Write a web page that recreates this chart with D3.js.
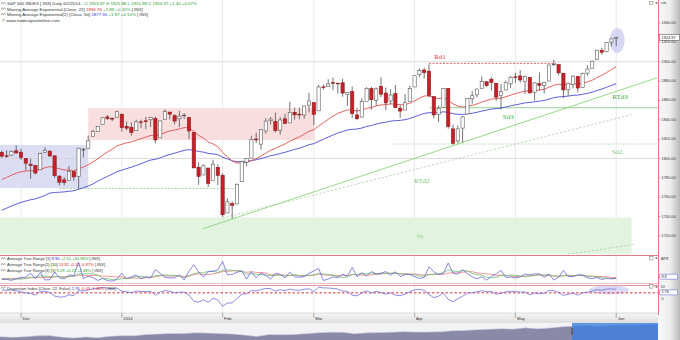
<!DOCTYPE html>
<html><head><meta charset="utf-8">
<script src="https://cdn.jsdelivr.net/npm/d3@7"></script>
<style>
html,body{margin:0;padding:0;background:#fff;}
svg{display:block;font-family:"Liberation Sans",Arial,sans-serif;}
</style></head><body>
<svg id="c" width="680" height="340"></svg>
<script>
// ---------------- DATA ----------------
const dates = [
"2013-11-25","2013-11-26","2013-11-27","2013-11-29",
"2013-12-02","2013-12-03","2013-12-04","2013-12-05","2013-12-06","2013-12-09","2013-12-10","2013-12-11","2013-12-12","2013-12-13","2013-12-16","2013-12-17","2013-12-18","2013-12-19","2013-12-20","2013-12-23","2013-12-24","2013-12-26","2013-12-27","2013-12-30","2013-12-31",
"2014-01-02","2014-01-03","2014-01-06","2014-01-07","2014-01-08","2014-01-09","2014-01-10","2014-01-13","2014-01-14","2014-01-15","2014-01-16","2014-01-17","2014-01-21","2014-01-22","2014-01-23","2014-01-24","2014-01-27","2014-01-28","2014-01-29","2014-01-30","2014-01-31",
"2014-02-03","2014-02-04","2014-02-05","2014-02-06","2014-02-07","2014-02-10","2014-02-11","2014-02-12","2014-02-13","2014-02-14","2014-02-18","2014-02-19","2014-02-20","2014-02-21","2014-02-24","2014-02-25","2014-02-26","2014-02-27","2014-02-28",
"2014-03-03","2014-03-04","2014-03-05","2014-03-06","2014-03-07","2014-03-10","2014-03-11","2014-03-12","2014-03-13","2014-03-14","2014-03-17","2014-03-18","2014-03-19","2014-03-20","2014-03-21","2014-03-24","2014-03-25","2014-03-26","2014-03-27","2014-03-28","2014-03-31",
"2014-04-01","2014-04-02","2014-04-03","2014-04-04","2014-04-07","2014-04-08","2014-04-09","2014-04-10","2014-04-11","2014-04-14","2014-04-15","2014-04-16","2014-04-17","2014-04-21","2014-04-22","2014-04-23","2014-04-24","2014-04-25","2014-04-28","2014-04-29","2014-04-30",
"2014-05-01","2014-05-02","2014-05-05","2014-05-06","2014-05-07","2014-05-08","2014-05-09","2014-05-12","2014-05-13","2014-05-14","2014-05-15","2014-05-16","2014-05-19","2014-05-20","2014-05-21","2014-05-22","2014-05-23","2014-05-27","2014-05-28","2014-05-29","2014-05-30",
"2014-06-02"];

const opens = [1806.33,1802.87,1803.48,1808.01,
1806.55,1800.10,1794.15,1792.82,1788.36,1806.21,1807.60,1802.76,1781.71,1777.98,1777.48,1786.47,1781.46,1809.00,1810.39,1822.92,1828.02,1834.96,1842.97,1841.47,1842.61,
1845.86,1833.21,1832.31,1828.71,1837.90,1839.00,1840.06,1841.26,1821.36,1840.52,1847.99,1844.23,1841.05,1844.71,1842.29,1826.96,1791.03,1783.00,1790.15,1777.17,1790.88,
1782.68,1743.82,1753.38,1752.99,1776.01,1796.20,1800.45,1820.12,1814.82,1828.46,1839.03,1838.22,1829.24,1841.07,1836.78,1847.66,1845.79,1844.90,1855.12,
1857.68,1849.23,1874.05,1874.18,1878.52,1877.86,1878.26,1866.15,1869.06,1845.07,1842.81,1858.92,1872.25,1860.09,1874.53,1867.67,1859.48,1867.09,1852.11,1850.07,1859.16,
1873.96,1886.61,1891.43,1890.25,1863.92,1845.48,1852.64,1872.28,1830.65,1818.18,1831.45,1846.01,1861.73,1865.79,1872.57,1879.32,1881.97,1877.72,1865.00,1870.78,1877.10,
1884.39,1885.30,1879.45,1883.69,1868.53,1877.39,1875.27,1880.03,1896.75,1897.13,1888.16,1871.19,1876.66,1884.88,1873.34,1888.19,1893.32,1902.01,1911.77,1910.60,1920.33,
1923.87];

const highs = [1808.10,1808.42,1808.27,1813.55,
1810.02,1800.10,1799.80,1792.82,1806.04,1811.52,1808.52,1802.97,1782.99,1780.92,1792.22,1786.77,1811.08,1810.88,1823.75,1829.75,1833.32,1842.84,1844.89,1842.47,1849.44,
1845.86,1838.24,1837.16,1840.10,1840.02,1843.23,1843.15,1843.45,1839.26,1850.84,1847.99,1846.04,1849.31,1846.87,1842.29,1826.96,1795.98,1793.87,1790.15,1798.77,1793.88,
1784.83,1758.73,1755.79,1774.06,1798.03,1799.94,1823.54,1826.55,1830.25,1841.65,1842.87,1847.50,1842.79,1846.13,1858.71,1852.91,1852.65,1854.53,1867.92,
1857.68,1876.23,1876.53,1881.94,1883.57,1877.87,1882.35,1868.38,1874.40,1852.44,1862.30,1873.76,1874.14,1873.49,1883.97,1873.34,1871.87,1875.92,1855.55,1866.63,1875.18,
1885.84,1893.17,1893.80,1897.28,1864.04,1854.95,1872.43,1872.53,1835.07,1834.19,1844.02,1862.31,1869.63,1871.89,1884.89,1879.75,1884.06,1877.72,1877.01,1880.60,1885.20,
1888.59,1891.33,1885.51,1883.69,1878.83,1889.07,1878.57,1897.13,1902.17,1897.13,1888.16,1878.28,1886.00,1884.88,1888.80,1896.33,1901.26,1912.28,1914.46,1920.03,1924.03,
1925.88];

const lows = [1800.58,1800.77,1802.77,1804.78,
1798.60,1787.85,1779.09,1783.38,1788.36,1806.21,1801.75,1780.09,1772.28,1772.45,1777.48,1777.05,1767.99,1801.35,1810.25,1822.92,1828.02,1834.96,1839.81,1838.77,1842.41,
1827.74,1829.13,1823.73,1828.71,1831.40,1830.38,1832.43,1815.52,1821.36,1840.52,1840.30,1835.23,1832.38,1840.88,1820.06,1790.29,1772.88,1783.00,1770.45,1777.17,1772.26,
1739.66,1743.82,1737.92,1752.99,1776.01,1791.83,1800.41,1815.97,1809.22,1825.59,1835.01,1826.99,1824.58,1835.60,1836.78,1840.19,1840.66,1841.13,1847.67,
1834.44,1849.23,1871.11,1874.18,1870.56,1867.04,1863.88,1854.38,1841.86,1839.57,1842.81,1858.92,1850.35,1854.63,1863.46,1849.69,1855.96,1852.56,1842.11,1850.07,1859.16,
1873.96,1883.79,1882.65,1863.26,1841.48,1837.49,1852.38,1830.87,1814.36,1815.80,1816.29,1846.01,1856.72,1863.18,1872.57,1873.91,1870.24,1859.70,1850.61,1870.78,1872.69,
1878.04,1878.50,1866.77,1867.72,1859.79,1870.05,1867.02,1880.03,1896.06,1885.77,1862.36,1864.82,1872.42,1868.14,1873.34,1885.39,1893.32,1902.01,1907.30,1909.82,1915.67,
1915.98];

const closes = [1802.48,1802.75,1807.23,1805.81,
1800.90,1795.15,1792.81,1785.03,1805.09,1808.37,1802.62,1782.22,1775.50,1775.32,1786.54,1781.00,1810.65,1809.60,1818.32,1827.99,1833.32,1842.02,1841.40,1841.07,1848.36,
1831.98,1831.37,1826.77,1837.88,1837.49,1838.13,1842.37,1819.20,1838.88,1848.38,1845.89,1838.70,1843.80,1844.86,1828.46,1790.29,1781.56,1792.50,1774.20,1794.19,1782.59,
1741.89,1755.20,1751.64,1773.43,1797.02,1799.84,1819.75,1819.26,1829.83,1838.63,1840.76,1828.75,1839.78,1836.25,1847.61,1845.12,1845.16,1854.29,1859.45,
1845.73,1873.91,1873.81,1877.03,1878.04,1877.17,1867.63,1868.20,1846.34,1841.13,1858.83,1872.25,1860.77,1872.01,1866.52,1857.44,1865.62,1852.56,1849.04,1857.62,1872.34,
1885.52,1890.90,1888.77,1865.09,1845.04,1851.96,1872.18,1833.08,1815.69,1830.61,1842.98,1862.31,1864.85,1871.89,1879.55,1875.39,1878.61,1863.40,1869.43,1878.33,1883.95,
1883.68,1881.14,1884.66,1867.72,1878.21,1875.63,1878.48,1896.65,1897.45,1888.53,1870.85,1877.86,1885.08,1872.83,1888.03,1892.49,1900.53,1911.91,1909.78,1920.03,1923.57,
1924.97];

const ema22 = [1778.3,1780.4,1782.8,1784.8,1786.2,1787.0,1787.5,1787.3,1788.8,1790.5,
1791.6,1790.7,1789.4,1788.2,1788.0,1787.4,1789.4,1791.2,1793.5,1796.5,
1799.7,1803.4,1806.7,1809.7,1813.1,1814.7,1816.2,1817.1,1818.9,1820.5,
1822.1,1823.8,1823.4,1824.8,1826.8,1828.5,1829.4,1830.6,1831.9,1831.6,
1828.0,1823.9,1821.2,1817.1,1815.1,1812.3,1806.2,1801.8,1797.4,1795.3,
1795.5,1795.9,1797.9,1799.8,1802.4,1805.5,1808.6,1810.4,1812.9,1815.0,
1817.8,1820.2,1822.3,1825.1,1828.1,1829.7,1833.5,1837.0,1840.5,1843.8,
1846.7,1848.5,1850.2,1849.9,1849.1,1850.0,1851.9,1852.7,1854.4,1855.4,
1855.6,1856.5,1856.1,1855.5,1855.7,1857.1,1859.6,1862.3,1864.6,1864.7,
1863.0,1862.0,1862.9,1860.3,1856.4,1854.2,1853.2,1854.0,1854.9,1856.4,
1858.4,1859.9,1861.5,1861.7,1862.4,1863.8,1865.5,1867.1,1868.3,1869.7,
1869.6,1870.3,1870.8,1871.5,1873.7,1875.7,1876.8,1876.3,1876.5,1877.2,
1876.8,1877.8,1879.1,1880.9,1883.6,1885.9,1888.9,1891.9,1894.8];

const ema50 = [1746.6,1748.7,1750.9,1752.9,1754.6,1756.1,1757.4,1758.3,1760.0,1761.8,
1764.3,1764.9,1765.2,1765.5,1766.2,1766.7,1768.3,1769.8,1771.6,1773.7,
1776.7,1779.2,1781.5,1783.8,1786.3,1788.0,1789.6,1791.0,1792.8,1794.5,
1796.7,1798.4,1799.2,1800.7,1802.6,1804.2,1805.5,1807.0,1808.4,1809.2,
1808.4,1807.3,1806.6,1805.3,1804.8,1803.9,1801.4,1799.6,1797.7,1796.7,
1796.9,1797.0,1797.9,1798.7,1799.9,1801.3,1802.9,1803.8,1805.2,1806.4,
1807.9,1809.4,1810.7,1812.4,1814.2,1815.4,1817.7,1819.9,1822.1,1824.3,
1826.3,1827.9,1829.5,1830.1,1830.5,1831.5,1833.1,1834.1,1835.6,1836.8,
1837.5,1838.6,1839.1,1839.4,1840.1,1841.4,1843.1,1844.9,1846.6,1847.3,
1847.2,1847.3,1848.3,1847.6,1846.3,1845.7,1845.5,1846.2,1846.8,1847.8,
1849.0,1850.0,1851.1,1851.5,1852.2,1853.2,1854.4,1855.5,1856.4,1857.5,
1857.9,1858.6,1859.3,1860.0,1861.4,1862.8,1863.7,1864.0,1864.5,1865.3,
1865.5,1866.4,1867.3,1868.6,1870.3,1871.8,1873.6,1875.5,1877.4];

const atr1 = [7.5,7.6,5.5,8.8,11.4,12.3,20.7,9.4,21.7,6.4,
6.8,22.9,10.7,8.5,16.9,15.2,43.1,9.5,14.2,11.4,
5.3,9.5,5.1,3.7,8.4,20.6,9.1,13.4,16.4,8.6,
12.9,10.7,27.9,20.1,12.0,10.5,10.7,17.0,6.0,24.8,
38.2,23.1,12.3,23.4,24.6,26.9,45.2,16.8,17.9,22.4,
24.9,8.1,23.7,10.6,21.0,16.1,7.9,20.5,18.2,10.5,
22.5,12.7,12.0,13.4,20.3,25.0,30.5,5.4,8.1,13.0,
11.0,18.5,14.0,32.5,12.9,21.2,14.9,23.8,18.9,20.5,
23.7,15.9,23.4,13.4,17.6,17.6,13.5,9.4,11.2,34.0,
23.6,17.5,20.5,41.7,20.7,18.4,27.7,19.3,12.9,8.7,
13.0,5.8,13.8,18.9,26.4,11.4,12.5,10.6,12.8,18.7,
16.9,19.0,19.0,11.6,18.7,6.1,11.7,26.2,13.5,13.6,
16.9,16.0,10.9,8.8,11.8,7.2,10.2,8.4,9.9];

const atr10 = [9.5,9.6,9.4,9.6,10.0,10.4,10.9,11.0,11.4,
11.1,11.1,12.6,13.1,13.1,13.6,13.9,16.2,16.2,15.4,
15.9,15.8,14.4,13.9,13.4,12.5,13.1,9.7,10.1,10.3,
10.0,10.8,10.9,13.2,14.8,15.2,14.2,14.3,14.7,13.6,
15.3,17.8,19.0,17.5,17.8,19.1,20.7,24.2,24.1,25.3,
25.1,23.8,22.3,23.4,22.1,21.8,20.7,16.9,17.3,17.3,
16.2,15.9,16.4,15.2,15.5,15.4,16.3,18.6,17.1,16.0,
16.3,15.1,15.7,15.9,17.8,17.1,16.7,15.2,17.0,18.1,
18.8,20.1,19.8,20.8,18.9,19.3,19.0,18.8,17.4,16.6,
18.0,18.0,18.1,17.8,20.7,21.0,21.1,22.5,23.5,23.6,
21.1,20.0,18.9,18.2,15.9,16.5,15.8,14.3,13.4,13.4,
14.4,14.8,16.1,16.6,15.9,15.1,14.6,14.5,16.1,16.1,
15.6,15.6,15.3,14.5,14.2,13.6,13.7,13.5,11.7,11.4];

const atr5 = [8.0,8.2,7.8,8.0,
8.2,9.1,11.7,12.5,15.1,14.1,13.0,13.4,13.7,11.1,
13.2,14.8,18.9,18.6,19.8,18.7,16.7,10.0,9.1,7.0,
6.4,9.5,9.4,11.0,13.6,13.6,12.1,12.4,15.3,16.0,
16.7,16.2,16.2,14.1,11.2,13.8,19.3,21.8,20.9,24.4,
24.3,22.1,26.5,27.4,26.3,25.8,25.4,18.0,19.4,17.9,
17.7,15.9,15.9,15.2,16.7,14.6,15.9,16.9,15.2,14.2,
16.2,16.7,20.2,18.9,17.9,16.4,13.6,11.2,12.9,17.8,
17.8,19.8,19.1,21.1,18.3,19.9,20.4,20.6,20.5,19.4,
18.8,17.6,17.1,14.3,13.9,17.1,18.3,19.1,21.4,27.5,
24.8,23.8,25.8,25.6,19.8,17.4,16.3,11.9,10.8,12.0,
15.6,15.3,16.6,16.0,14.7,13.2,14.3,15.6,17.3,17.0,
17.0,14.9,13.4,14.9,15.2,14.2,16.4,17.2,14.2,13.2,
12.9,10.9,9.8,9.3,9.5];

const dispersion = [1.36,1.26,1.37,1.18,0.82,0.46,0.30,-0.13,0.91,1.00,
0.61,-0.47,-0.78,-0.72,-0.08,-0.36,1.19,1.03,1.38,1.75,
1.87,2.14,1.92,1.73,1.95,0.95,0.84,0.53,1.04,0.93,
0.88,1.02,-0.23,0.77,1.18,0.95,0.51,0.72,0.71,-0.17,
-2.06,-2.32,-1.58,-2.36,-1.15,-1.64,-3.56,-2.59,-2.55,-1.22,
0.08,0.22,1.22,1.08,1.52,1.83,1.78,1.01,1.48,1.17,
1.64,1.37,1.26,1.60,1.71,0.87,2.20,2.00,1.98,1.85,
1.65,1.03,0.97,-0.19,-0.43,0.48,1.10,0.44,0.95,0.60,
0.10,0.49,-0.19,-0.35,0.10,0.82,1.39,1.54,1.30,0.02,
-0.97,-0.54,0.50,-1.46,-2.19,-1.27,-0.55,0.45,0.54,0.84,
1.14,0.83,0.92,0.09,0.38,0.78,0.99,0.89,0.69,0.80,
-0.10,0.42,0.26,0.37,1.22,1.16,0.62,-0.29,0.07,0.42,
-0.21,0.54,0.71,1.04,1.50,1.27,1.65,1.68,1.59];
const dispersionRef = 0.5;

const navValues = [1115,1074,1104,1169,1187,1089,1031,1102,1049,1141,1183,1181,
1258,1286,1327,1326,1364,1345,1321,1292,1219,1131,1253,1247,
1258,1312,1366,1408,1398,1310,1362,1379,1406,1441,1412,1416,
1426,1498,1515,1569,1597,1631,1606,1686,1633,1682,1757,1806,
1848,1783,1859,1872,1884,1924,1924];
const navWindowStart = 46.8;

const priceTicks = [1720,1740,1760,1780,1800,1820,1840,1860,1880,1900,1920,1940];
const gridLevels = [1800,1900];
const monthTicks = [
 {date:"2013-12-02",label:"Dec"},{date:"2014-01-02",label:"2014"},{date:"2014-02-03",label:"Feb"},
 {date:"2014-03-03",label:"Mar"},{date:"2014-04-01",label:"Apr"},{date:"2014-05-01",label:"May"},{date:"2014-06-02",label:"Jun"}];

// drawing annotations in [day index, price]
const zones = [
 {i0:-1, i1:18, p0:1769.5, p1:1814, fill:"#dcdcf3"},
 {i0:18, i1:65.2, p0:1819, p1:1852, fill:"#f8dede"},
 {i0:-1, i1:131.2, p0:1701.5, p1:1739, fill:"#e2f3df"}];
const levels = [
 {i0:89, i1:115.5, p:1898.3, color:"#d84040", dash:"2,1.5", w:0.8},
 {i0:89.2, i1:137, p:1852.5, color:"#7cc77c", dash:null, w:0.8},
 {i0:81.5, i1:137, p:1815, color:"#9fd49f", dash:"1,1.5", w:1},
 {i0:12, i1:49, p:1769, color:"#8fcf8f", dash:"2,1.5", w:0.8}];
const trends = [
 {pts:[[42,1727.6],[136.5,1883.4]], color:"#7ccf6c", dash:null, w:0.8},
 {pts:[[46,1738.5],[131.2,1845.3]], color:"#a9c9a0", dash:"2,2", w:0.8},
 {pts:[[118,1701],[132,1711.5]], color:"#a9cfa0", dash:"2,2", w:0.8}];
const notes = [
 {t:"Rd1", i:91.3, p:1905, color:"#d83a3a", size:7},
 {t:"Sd3", i:105.5, p:1842.5, color:"#3aa83a", size:7},
 {t:"RTd3", i:128.8, p:1863.5, color:"#3aa83a", size:7},
 {t:"Sd2", i:128.2, p:1806.5, color:"#7cc77c", size:7},
 {t:"RTd2", i:87.5, p:1776.5, color:"#7cc77c", size:7},
 {t:"Sts", i:87.1, p:1719.5, color:"#8fcf8f", size:5.5}];

// ---------------- SCALES ----------------
const svg = d3.select("#c");
const PR = 658;                 // right edge of plotting area
const n = dates.length;
const x = d3.scaleBand().domain(dates).range([-0.6, -0.6 + n*4.8]).paddingInner(0.32).paddingOuter(0.16);
const bw = x.bandwidth();
const cx = d => x(d) + bw/2;
const xi = d3.scaleLinear().domain([0, n-1]).range([cx(dates[0]), cx(dates[n-1])]);
const y = d3.scaleLinear().domain([1700.3, 1963.8]).range([255, 0]);
const yA = d3.scaleLinear().domain([0, 50]).range([283, 259]);
const yD = d3.scaleLinear().domain([-4, 3]).range([307.7, 284.6]);
const navX = d3.scaleLinear().domain([0, navValues.length-1]).range([0, 660]);
const navY = d3.scaleLinear().domain([900, 2000]).range([340, 323]);

// ---------------- DEFS ----------------
const defs = svg.append("defs");
function clip(id,x0,y0,w,h){defs.append("clipPath").attr("id",id).append("rect").attr("x",x0).attr("y",y0).attr("width",w).attr("height",h);}
clip("cMain",0,0,PR,255); clip("cATR",0,256,PR,27); clip("cDI",0,286,PR,27); clip("cNav",0,323,PR,17);
const gR = defs.append("linearGradient").attr("id","gR").attr("x1",0).attr("x2",1).attr("y1",0).attr("y2",0);
gR.append("stop").attr("offset","0").attr("stop-color","#f8f8f8");
gR.append("stop").attr("offset","0.55").attr("stop-color","#eeeeee");
gR.append("stop").attr("offset","1").attr("stop-color","#b9b9b9");
const gB = defs.append("linearGradient").attr("id","gB").attr("x1",0).attr("x2",0).attr("y1",0).attr("y2",1);
gB.append("stop").attr("offset","0").attr("stop-color","#f6f6f6");
gB.append("stop").attr("offset","1").attr("stop-color","#dedede");

// ---------------- BACKGROUNDS ----------------
svg.append("rect").attr("width",680).attr("height",340).attr("fill","#ffffff");
svg.append("rect").attr("x",PR).attr("y",0).attr("width",680-PR).attr("height",313).attr("fill","url(#gR)");
svg.append("rect").attr("x",0).attr("y",313).attr("width",PR).attr("height",10).attr("fill","url(#gB)");
svg.append("rect").attr("x",0).attr("y",323).attr("width",PR).attr("height",17).attr("fill","#f3f3f6");
svg.append("rect").attr("x",PR).attr("y",313).attr("width",680-PR).attr("height",27).attr("fill","url(#gR)");

// month grid lines across the panels
svg.append("g").selectAll("line").data(monthTicks).join("line")
 .attr("x1",d=>cx(d.date)).attr("x2",d=>cx(d.date)).attr("y1",0).attr("y2",313)
 .attr("stroke","#e3e3e3").attr("stroke-width",0.8);

// ---------------- MAIN PANEL ----------------
const gM = svg.append("g").attr("clip-path","url(#cMain)");
gM.selectAll(".zone").data(zones).join("rect")
 .attr("x",d=>xi(d.i0)).attr("width",d=>xi(d.i1)-xi(d.i0))
 .attr("y",d=>y(d.p1)).attr("height",d=>y(d.p0)-y(d.p1)).attr("fill",d=>d.fill);
gM.selectAll(".grid").data(gridLevels).join("line")
 .attr("x1",0).attr("x2",PR).attr("y1",d=>y(d)).attr("y2",d=>y(d)).attr("stroke","#d2d2d2").attr("stroke-width",0.8);
gM.selectAll(".lvl").data(levels).join("line")
 .attr("x1",d=>xi(d.i0)).attr("x2",d=>xi(d.i1)).attr("y1",d=>y(d.p)).attr("y2",d=>y(d.p))
 .attr("stroke",d=>d.color).attr("stroke-width",d=>d.w).attr("stroke-dasharray",d=>d.dash);
gM.selectAll(".trend").data(trends).join("line")
 .attr("x1",d=>xi(d.pts[0][0])).attr("y1",d=>y(d.pts[0][1])).attr("x2",d=>xi(d.pts[1][0])).attr("y2",d=>y(d.pts[1][1]))
 .attr("stroke",d=>d.color).attr("stroke-width",d=>d.w).attr("stroke-dasharray",d=>d.dash);
// highlight ellipse around last bars
gM.append("ellipse").attr("cx",xi(n-1)+1).attr("cy",y(1922)).attr("rx",7.5).attr("ry",12.5)
 .attr("fill","#c9cbf0").attr("opacity",0.75);

const lineP = d3.line().x((d,i)=>cx(dates[i])).y(d=>y(d));
gM.append("path").attr("d",lineP(ema50)).attr("fill","none").attr("stroke","#4b4bd6").attr("stroke-width",0.9);
gM.append("path").attr("d",lineP(ema22)).attr("fill","none").attr("stroke","#e2504f").attr("stroke-width",0.9);

const candles = dates.map((d,i)=>({d,o:opens[i],h:highs[i],l:lows[i],c:closes[i]}));
gM.selectAll(".wick").data(candles).join("line")
 .attr("x1",d=>cx(d.d)).attr("x2",d=>cx(d.d))
 .attr("y1",d=>y(Math.max(d.h,d.o,d.c))).attr("y2",d=>y(Math.min(d.l,d.o,d.c)))
 .attr("stroke","#505050").attr("stroke-width",0.8);
gM.selectAll(".body").data(candles).join("rect")
 .attr("x",d=>x(d.d)).attr("width",bw)
 .attr("y",d=>y(Math.max(d.o,d.c))).attr("height",d=>Math.max(0.7,Math.abs(y(d.o)-y(d.c))))
 .attr("fill",d=>d.c>=d.o?"#ffffff":"#c8202a")
 .attr("stroke",d=>d.c>=d.o?"#5a5a5a":"#8c1a1a").attr("stroke-width",0.6);

gM.selectAll(".note").data(notes).join("text")
 .attr("x",d=>xi(d.i)).attr("y",d=>y(d.p)).attr("text-anchor","middle").attr("dominant-baseline","middle")
 .attr("font-family","'Liberation Serif','DejaVu Serif',serif").attr("font-size",d=>d.size)
 .attr("fill",d=>d.color).text(d=>d.t);

// panel separators
svg.append("line").attr("x1",0).attr("x2",PR).attr("y1",255.5).attr("y2",255.5).attr("stroke","#e07a84").attr("stroke-width",1);
svg.append("line").attr("x1",0).attr("x2",PR).attr("y1",283.5).attr("y2",283.5).attr("stroke","#eab0b6").attr("stroke-width",0.8);
svg.append("line").attr("x1",0).attr("x2",PR).attr("y1",285.5).attr("y2",285.5).attr("stroke","#e07a84").attr("stroke-width",0.8);
svg.append("line").attr("x1",0).attr("x2",PR).attr("y1",313).attr("y2",313).attr("stroke","#c8c8c8").attr("stroke-width",0.6);

// ---------------- ATR PANEL ----------------
const gA = svg.append("g").attr("clip-path","url(#cATR)");
const lineA = d3.line().x((d,i)=>cx(dates[i])).y(d=>yA(d));
gA.append("path").attr("d",lineA(atr10)).attr("fill","none").attr("stroke","#e87c7c").attr("stroke-width",0.8);
gA.append("path").attr("d",lineA(atr5)).attr("fill","none").attr("stroke","#6fbf6f").attr("stroke-width",0.8);
gA.append("path").attr("d",lineA(atr1)).attr("fill","none").attr("stroke","#6a6ad8").attr("stroke-width",0.8);

// ---------------- DISPERSION PANEL ----------------
const gD = svg.append("g").attr("clip-path","url(#cDI)");
gD.append("ellipse").attr("cx",xi(n-1)-7).attr("cy",yD(1.4)).attr("rx",20).attr("ry",4.5).attr("fill","#cfd1f2").attr("opacity",0.8);
gD.append("line").attr("x1",0).attr("x2",PR).attr("y1",yD(dispersionRef)).attr("y2",yD(dispersionRef))
 .attr("stroke","#e0303a").attr("stroke-width",1).attr("stroke-dasharray","2.5,2");
const lineD = d3.line().x((d,i)=>cx(dates[i])).y(d=>yD(d));
gD.append("path").attr("d",lineD(dispersion)).attr("fill","none").attr("stroke","#7070dc").attr("stroke-width",0.8);

// ---------------- DATE AXIS ----------------
const gX = svg.append("g");
gX.selectAll("line").data(monthTicks).join("line")
 .attr("x1",d=>cx(d.date)).attr("x2",d=>cx(d.date)).attr("y1",313).attr("y2",317.5).attr("stroke","#777").attr("stroke-width",0.6);
gX.selectAll("text").data(monthTicks).join("text")
 .attr("x",d=>cx(d.date)+1.5).attr("y",320.3).attr("font-size",4.2).attr("fill","#333").text(d=>d.label);

// ---------------- NAVIGATOR ----------------
const gN = svg.append("g").attr("clip-path","url(#cNav)");
const areaN = d3.area().x((d,i)=>navX(i)).y0(340).y1(d=>navY(d));
gN.append("path").attr("d",areaN(navValues)).attr("fill","#8a89a8");
gN.append("path").attr("d",d3.line().x((d,i)=>navX(i)).y(d=>navY(d))(navValues)).attr("fill","none").attr("stroke","#cfcfe0").attr("stroke-width",0.6);
gN.append("rect").attr("x",navX(navWindowStart)).attr("y",323).attr("width",PR-navX(navWindowStart)).attr("height",17)
 .attr("fill","#3f7fe0").attr("opacity",0.8);
gN.append("rect").attr("x",navX(navWindowStart)-1).attr("y",328).attr("width",2).attr("height",7).attr("fill","#666");

// ---------------- RIGHT AXES ----------------
svg.append("line").attr("x1",PR+0.5).attr("x2",PR+0.5).attr("y1",0).attr("y2",315).attr("stroke","#e06a78").attr("stroke-width",0.9);
const gY = svg.append("g");
gY.selectAll("line").data(priceTicks).join("line")
 .attr("x1",PR).attr("x2",PR+2.5).attr("y1",d=>y(d)).attr("y2",d=>y(d)).attr("stroke","#777").attr("stroke-width",0.5);
gY.selectAll("text").data(priceTicks).join("text")
 .attr("x",PR+3.5).attr("y",d=>y(d)).attr("dominant-baseline","middle").attr("font-size",3.9).attr("fill","#333")
 .text(d=>d3.format(".2f")(d));
const lastC = closes[n-1];
svg.append("rect").attr("x",PR+1.5).attr("y",y(lastC)-2.9).attr("width",20).attr("height",5.6)
 .attr("fill","#ffffff").attr("stroke","#444").attr("stroke-width",0.5);
svg.append("text").attr("x",PR+3.5).attr("y",y(lastC)).attr("dominant-baseline","middle").attr("font-size",3.9).attr("fill","#222").text(d3.format(".2f")(lastC));

function axisTag(yy, label){
  svg.append("rect").attr("x",649.5).attr("y",yy-2).attr("width",3.5).attr("height",3.5).attr("fill","#fff").attr("stroke","#555").attr("stroke-width",0.4);
  svg.append("text").attr("x",655).attr("y",yy).attr("dominant-baseline","middle").attr("font-size",3.6).attr("fill","#444").text("◂");
  svg.append("text").attr("x",661).attr("y",yy).attr("dominant-baseline","middle").attr("font-size",3.9).attr("fill","#333").text(label);
}
axisTag(3.2,"cm"); axisTag(258.5,"ATR"); axisTag(286.6,"DI");
function valueBox(yy, label, color){
  svg.append("rect").attr("x",PR+1.5).attr("y",yy-2.5).attr("width",18).attr("height",5).attr("rx",1)
   .attr("fill","#ffffff").attr("stroke",color).attr("stroke-width",0.6);
  svg.append("text").attr("x",PR+3.5).attr("y",yy).attr("dominant-baseline","middle").attr("font-size",3.7).attr("fill","#222").text(label);
}
valueBox(yA(atr1[n-1])-1.5,"9.9","#7070d8");
valueBox(292.4,"1.76","#7070d8");
svg.append("text").attr("x",PR+3.5).attr("y",298.8).attr("dominant-baseline","middle").attr("font-size",3.7).attr("fill","#333").text("0");

// ---------------- LEGENDS ----------------
const dark="#333333", green="#1f9a1f", red="#d42020", blue="#2a2ad0";
function icon(yy){
  svg.append("path").attr("d",`M1,${yy+0.5} L2.2,${yy-1.5} L3.4,${yy+0.5} L4.6,${yy-1.5} L5.6,${yy}`)
   .attr("fill","none").attr("stroke","#666").attr("stroke-width",0.5);
}
function legend(yy, parts, fs){
  icon(yy-1.3);
  const t = svg.append("text").attr("x",7).attr("y",yy).attr("font-size",fs).attr("xml:space","preserve");
  parts.forEach(p=>t.append("tspan").attr("fill",p[1]).text(p[0]));
}
legend(5,[["S&P 500 INDEX [.INX] Daily 6/2/2014 - ",dark],["O 1923.87 H 1925.88 L 1915.98 C 1924.97 +1.40 +0.07%",green]],4.4);
legend(10.5,[["Moving Average Exponential [Close, 22] ",dark],["1894.76",red],[" +2.88 +0.15% ",green],["[.INX]",dark]],4.4);
legend(16,[["Moving Average Exponential(2) [Close, 50] ",dark],["1877.35",blue],[" +1.87 +0.10% ",green],["[.INX]",dark]],4.4);
svg.append("text").attr("x",2).attr("y",22).attr("font-size",4.4).attr("fill",dark).text("© www.tradesignalonline.com");

legend(260,[["Average True Range [1] ",dark],["9.90",blue],[" +2.51 +33.96% ",green],["[.INX]",dark]],4.1);
legend(266,[["Average True Range(2) [10] ",dark],["13.92",red],[" -0.12 -0.87% ",red],["[.INX]",dark]],4.1);
legend(272,[["Average True Range(3) [5] ",dark],["9.29",green],[" +0.23 +2.48% ",green],["[.INX]",dark]],4.1);
legend(289.5,[["Dispersion Index [Close, 22, False] ",dark],["1.76",blue],[" -0.03 -1.48% ",red],["[.INX]",dark]],4.1);
</script>
</body></html>
